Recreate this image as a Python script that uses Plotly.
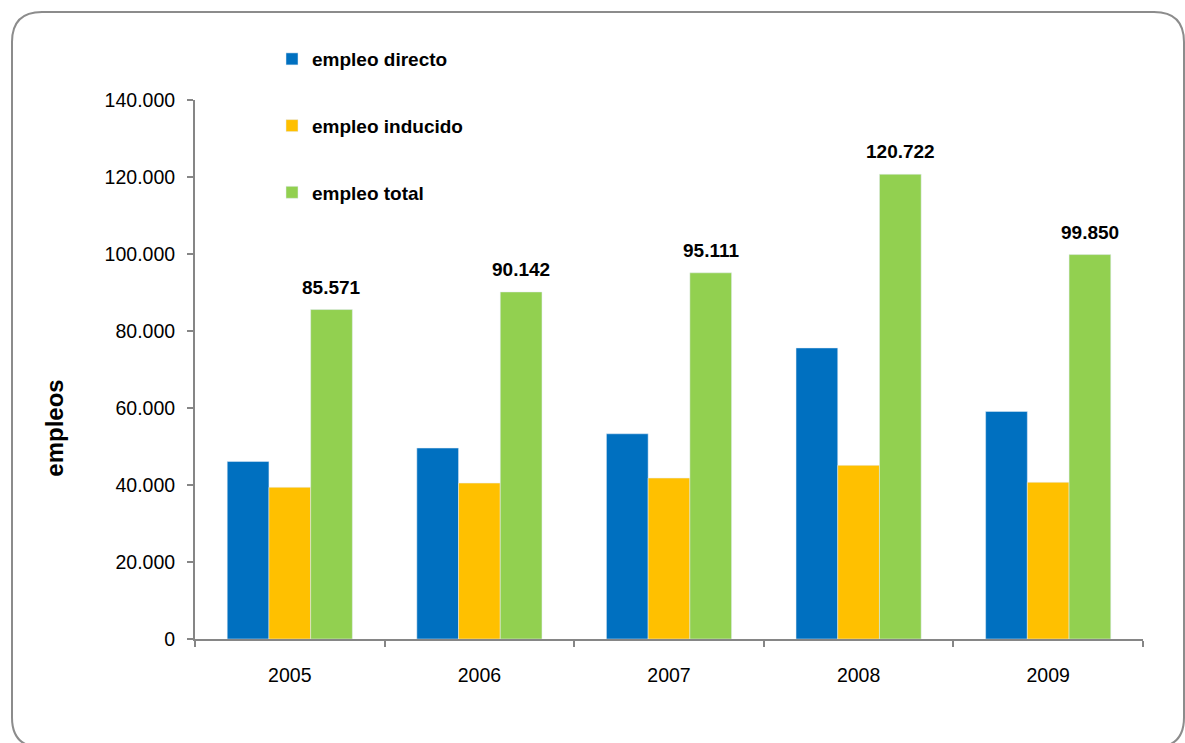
import plotly.graph_objects as go

years = ["2005", "2006", "2007", "2008", "2009"]
empleo_directo = [46100, 49600, 53300, 75600, 59100]
empleo_inducido = [39400, 40500, 41800, 45100, 40700]
empleo_total = [85571, 90142, 95111, 120722, 99850]
y_ticks = [0, 20000, 40000, 60000, 80000, 100000, 120000, 140000]

W, H = 1185, 743
L, R, T, B = 195, 42, 100, 103.5
pw, ph = W - L - R, H - T - B
BARGAP = 0.34

def px(x):
    return (x - L) / pw

def py(y):
    return (H - B - y) / ph

fig = go.Figure()
fig.add_trace(go.Bar(x=years, y=empleo_directo, name="empleo directo",
                     marker_color="#0070C0", legendgroup="a"))
fig.add_trace(go.Bar(x=years, y=empleo_inducido, name="empleo inducido",
                     marker_color="#FFC000", legendgroup="b"))
fig.add_trace(go.Bar(x=years, y=empleo_total, name="empleo total",
                     marker_color="#92D050", legendgroup="c"))

# value labels above the green bars (third bar of each group)
bar_w = (1 - BARGAP) / 3
for i, v in enumerate(empleo_total):
    fig.add_annotation(x=i + bar_w, y=v, xref="x", yref="y",
                       text=f"{v:,}".replace(",", "."), showarrow=False,
                       yanchor="bottom", yshift=10,
                       font=dict(family="Liberation Sans, Arial", size=19,
                                 color="black", weight="bold"))

# y-axis title (placed lower than centre, as in the original)
fig.add_annotation(x=px(55), y=py(429), xref="paper", yref="paper",
                   text="<b>empleos</b>", textangle=-90, showarrow=False,
                   xanchor="center", yanchor="middle",
                   font=dict(family="Liberation Sans, Arial", size=24, color="black"))

# rounded border
x0, y0, x1, y1, r = 12, 12, 1184, 748, 30
path = (f"M {px(x0+r)},{py(y0)} L {px(x1-r)},{py(y0)} "
        f"Q {px(x1)},{py(y0)} {px(x1)},{py(y0+r)} "
        f"L {px(x1)},{py(y1-r)} Q {px(x1)},{py(y1)} {px(x1-r)},{py(y1)} "
        f"L {px(x0+r)},{py(y1)} Q {px(x0)},{py(y1)} {px(x0)},{py(y1-r)} "
        f"L {px(x0)},{py(y0+r)} Q {px(x0)},{py(y0)} {px(x0+r)},{py(y0)} Z")
fig.add_shape(type="path", path=path, xref="paper", yref="paper",
              line=dict(color="#8c8c8c", width=2), layer="below")

fig.update_layout(
    width=W, height=H,
    margin=dict(l=L, r=R, t=T, b=B),
    paper_bgcolor="white", plot_bgcolor="white",
    separators=",.",
    barmode="group", bargap=BARGAP, bargroupgap=0,
    font=dict(family="Liberation Sans, Arial", size=18, color="black"),
    showlegend=True,
    legend=dict(x=px(272), y=py(40), xanchor="left", yanchor="top",
                font=dict(size=19, weight="bold"), tracegroupgap=39,
                bgcolor="rgba(0,0,0,0)", itemclick=False),
    xaxis=dict(showline=True, linecolor="#868686", linewidth=2,
               ticks="outside", tickson="boundaries", ticklen=6, tickcolor="#868686",
               tickwidth=2, showgrid=False, tickfont=dict(size=19.5),
               ticklabelstandoff=18),
    yaxis=dict(range=[0, 140000], tickvals=y_ticks, tickformat=",d",
               showline=True, linecolor="#868686", linewidth=2,
               ticks="outside", ticklen=6, tickcolor="#868686", tickwidth=2,
               showgrid=False, zeroline=False, tickfont=dict(size=19.5),
               ticklabelstandoff=8),
)

fig.write_html("out.html")
